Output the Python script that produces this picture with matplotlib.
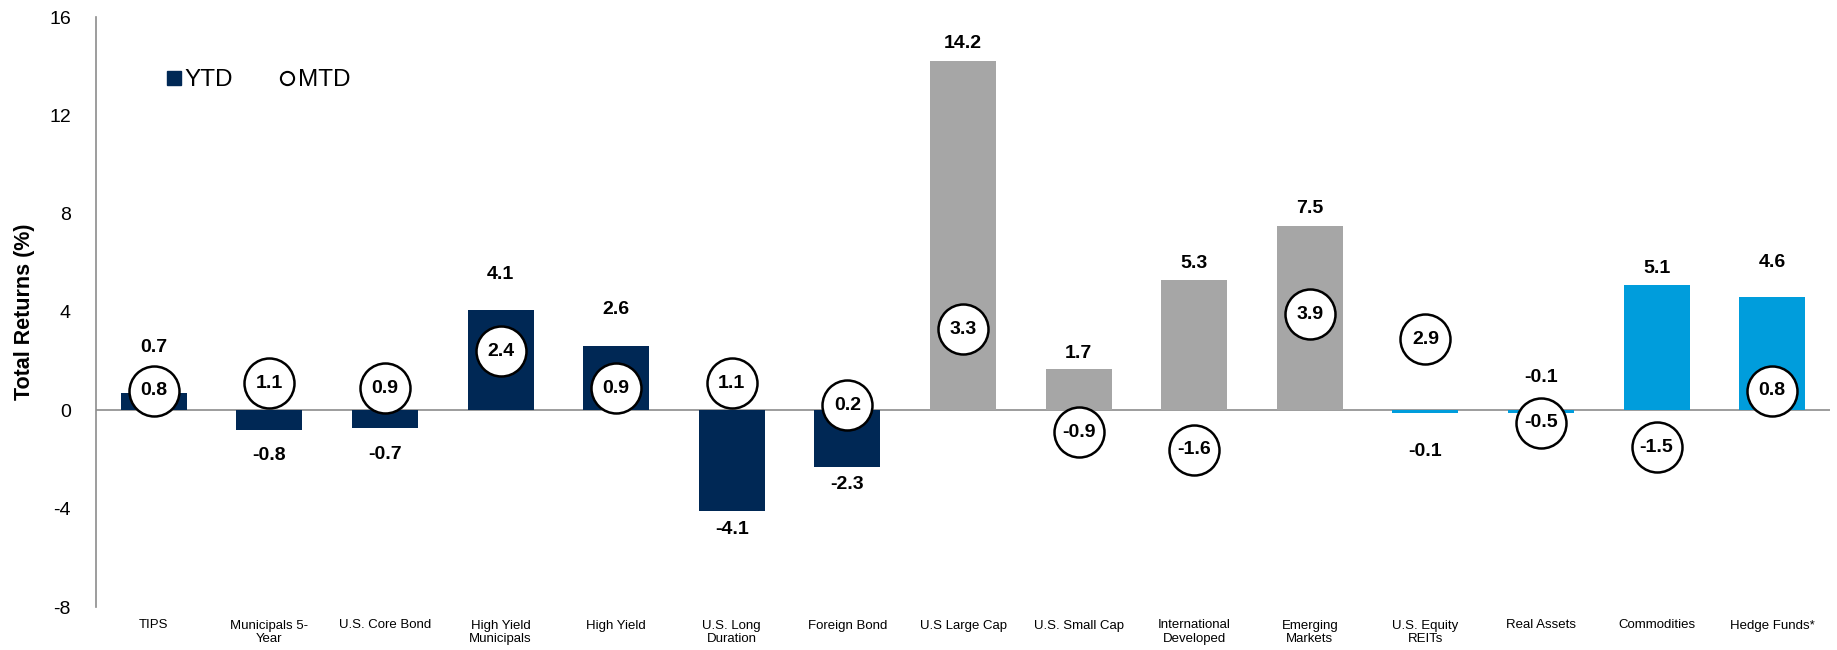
import matplotlib
matplotlib.use("Agg")
import matplotlib.pyplot as plt
from matplotlib.lines import Line2D
import numpy as np

categories = ["TIPS", "Municipals 5-\nYear", "U.S. Core Bond", "High Yield\nMunicipals",
              "High Yield", "U.S. Long\nDuration", "Foreign Bond", "U.S Large Cap",
              "U.S. Small Cap", "International\nDeveloped", "Emerging\nMarkets",
              "U.S. Equity\nREITs", "Real Assets", "Commodities", "Hedge Funds*"]
ytd = [0.7, -0.8, -0.7, 4.1, 2.6, -4.1, -2.3, 14.2, 1.7, 5.3, 7.5, -0.1, -0.1, 5.1, 4.6]
mtd = [0.8, 1.1, 0.9, 2.4, 0.9, 1.1, 0.2, 3.3, -0.9, -1.6, 3.9, 2.9, -0.5, -1.5, 0.8]
groups = ["fixed"] * 7 + ["equity"] * 4 + ["real"] * 4
yticks = [-8, -4, 0, 4, 8, 12, 16]

# style
group_colors = {"fixed": "#002855", "equity": "#a6a6a6", "real": "#009ddc"}
label_offset_px = [46, -25, -27, 35, 37, -18, -18, 18, 15, 17, 17, -39, 35, 16, 35]

plt.rcParams['font.family'] = ['Liberation Sans', 'DejaVu Sans']

fig = plt.figure(figsize=(18.37, 6.5), dpi=100)
ax = fig.add_axes([96/1837, 43/650, (1830-96)/1837, (607-17)/650])

x = np.arange(len(categories))
colors = [group_colors[g] for g in groups]
ax.bar(x, ytd, width=0.57, color=colors, zorder=2)
ax.axhline(0, color="#8c8c8c", lw=1.2, zorder=1)

ax.plot(x, mtd, linestyle="none", marker="o", markersize=36, markerfacecolor="white",
        markeredgecolor="black", markeredgewidth=1.8, zorder=4)

for xi, v, off in zip(x, ytd, label_offset_px):
    ax.annotate(f"{v:.1f}", (xi, v), xytext=(0, off), textcoords="offset pixels",
                ha="center", va="center", fontsize=14, fontweight="bold", zorder=5)
for xi, v in zip(x, mtd):
    ax.text(xi, v, f"{v:.1f}", ha="center", va="center", fontsize=14,
            fontweight="bold", zorder=5)

ax.set_xlim(-0.5, len(categories) - 0.5)
ax.set_ylim(-8, 16)
ax.set_yticks(yticks)
ax.set_yticklabels([str(t) for t in yticks], fontsize=14)
ax.set_xticks(x)
ax.set_xticklabels(categories, fontsize=9.5, linespacing=1.15)
ax.tick_params(axis="both", length=0)
ax.tick_params(axis="y", pad=18)
ax.tick_params(axis="x", pad=9)
for s in ["top", "right", "bottom"]:
    ax.spines[s].set_visible(False)
ax.spines["left"].set_color("#8c8c8c")
ax.spines["left"].set_linewidth(1.2)

ax.set_ylabel("Total Returns (%)", fontsize=15.5, fontweight="bold", labelpad=10)

handles = [Line2D([], [], linestyle="none", marker="s", markersize=9.5,
                  markerfacecolor="#002855", markeredgecolor="#002855"),
           Line2D([], [], linestyle="none", marker="o", markersize=9.5,
                  markerfacecolor="white", markeredgecolor="black", markeredgewidth=1.5)]
ax.legend(handles, ["YTD", "MTD"], loc="center left", bbox_to_anchor=(0.028, 0.893),
          ncol=2, frameon=False, fontsize=17.5, handlelength=0.6, handletextpad=0.15,
          columnspacing=1.9)

fig.savefig("out.png", dpi=100)
